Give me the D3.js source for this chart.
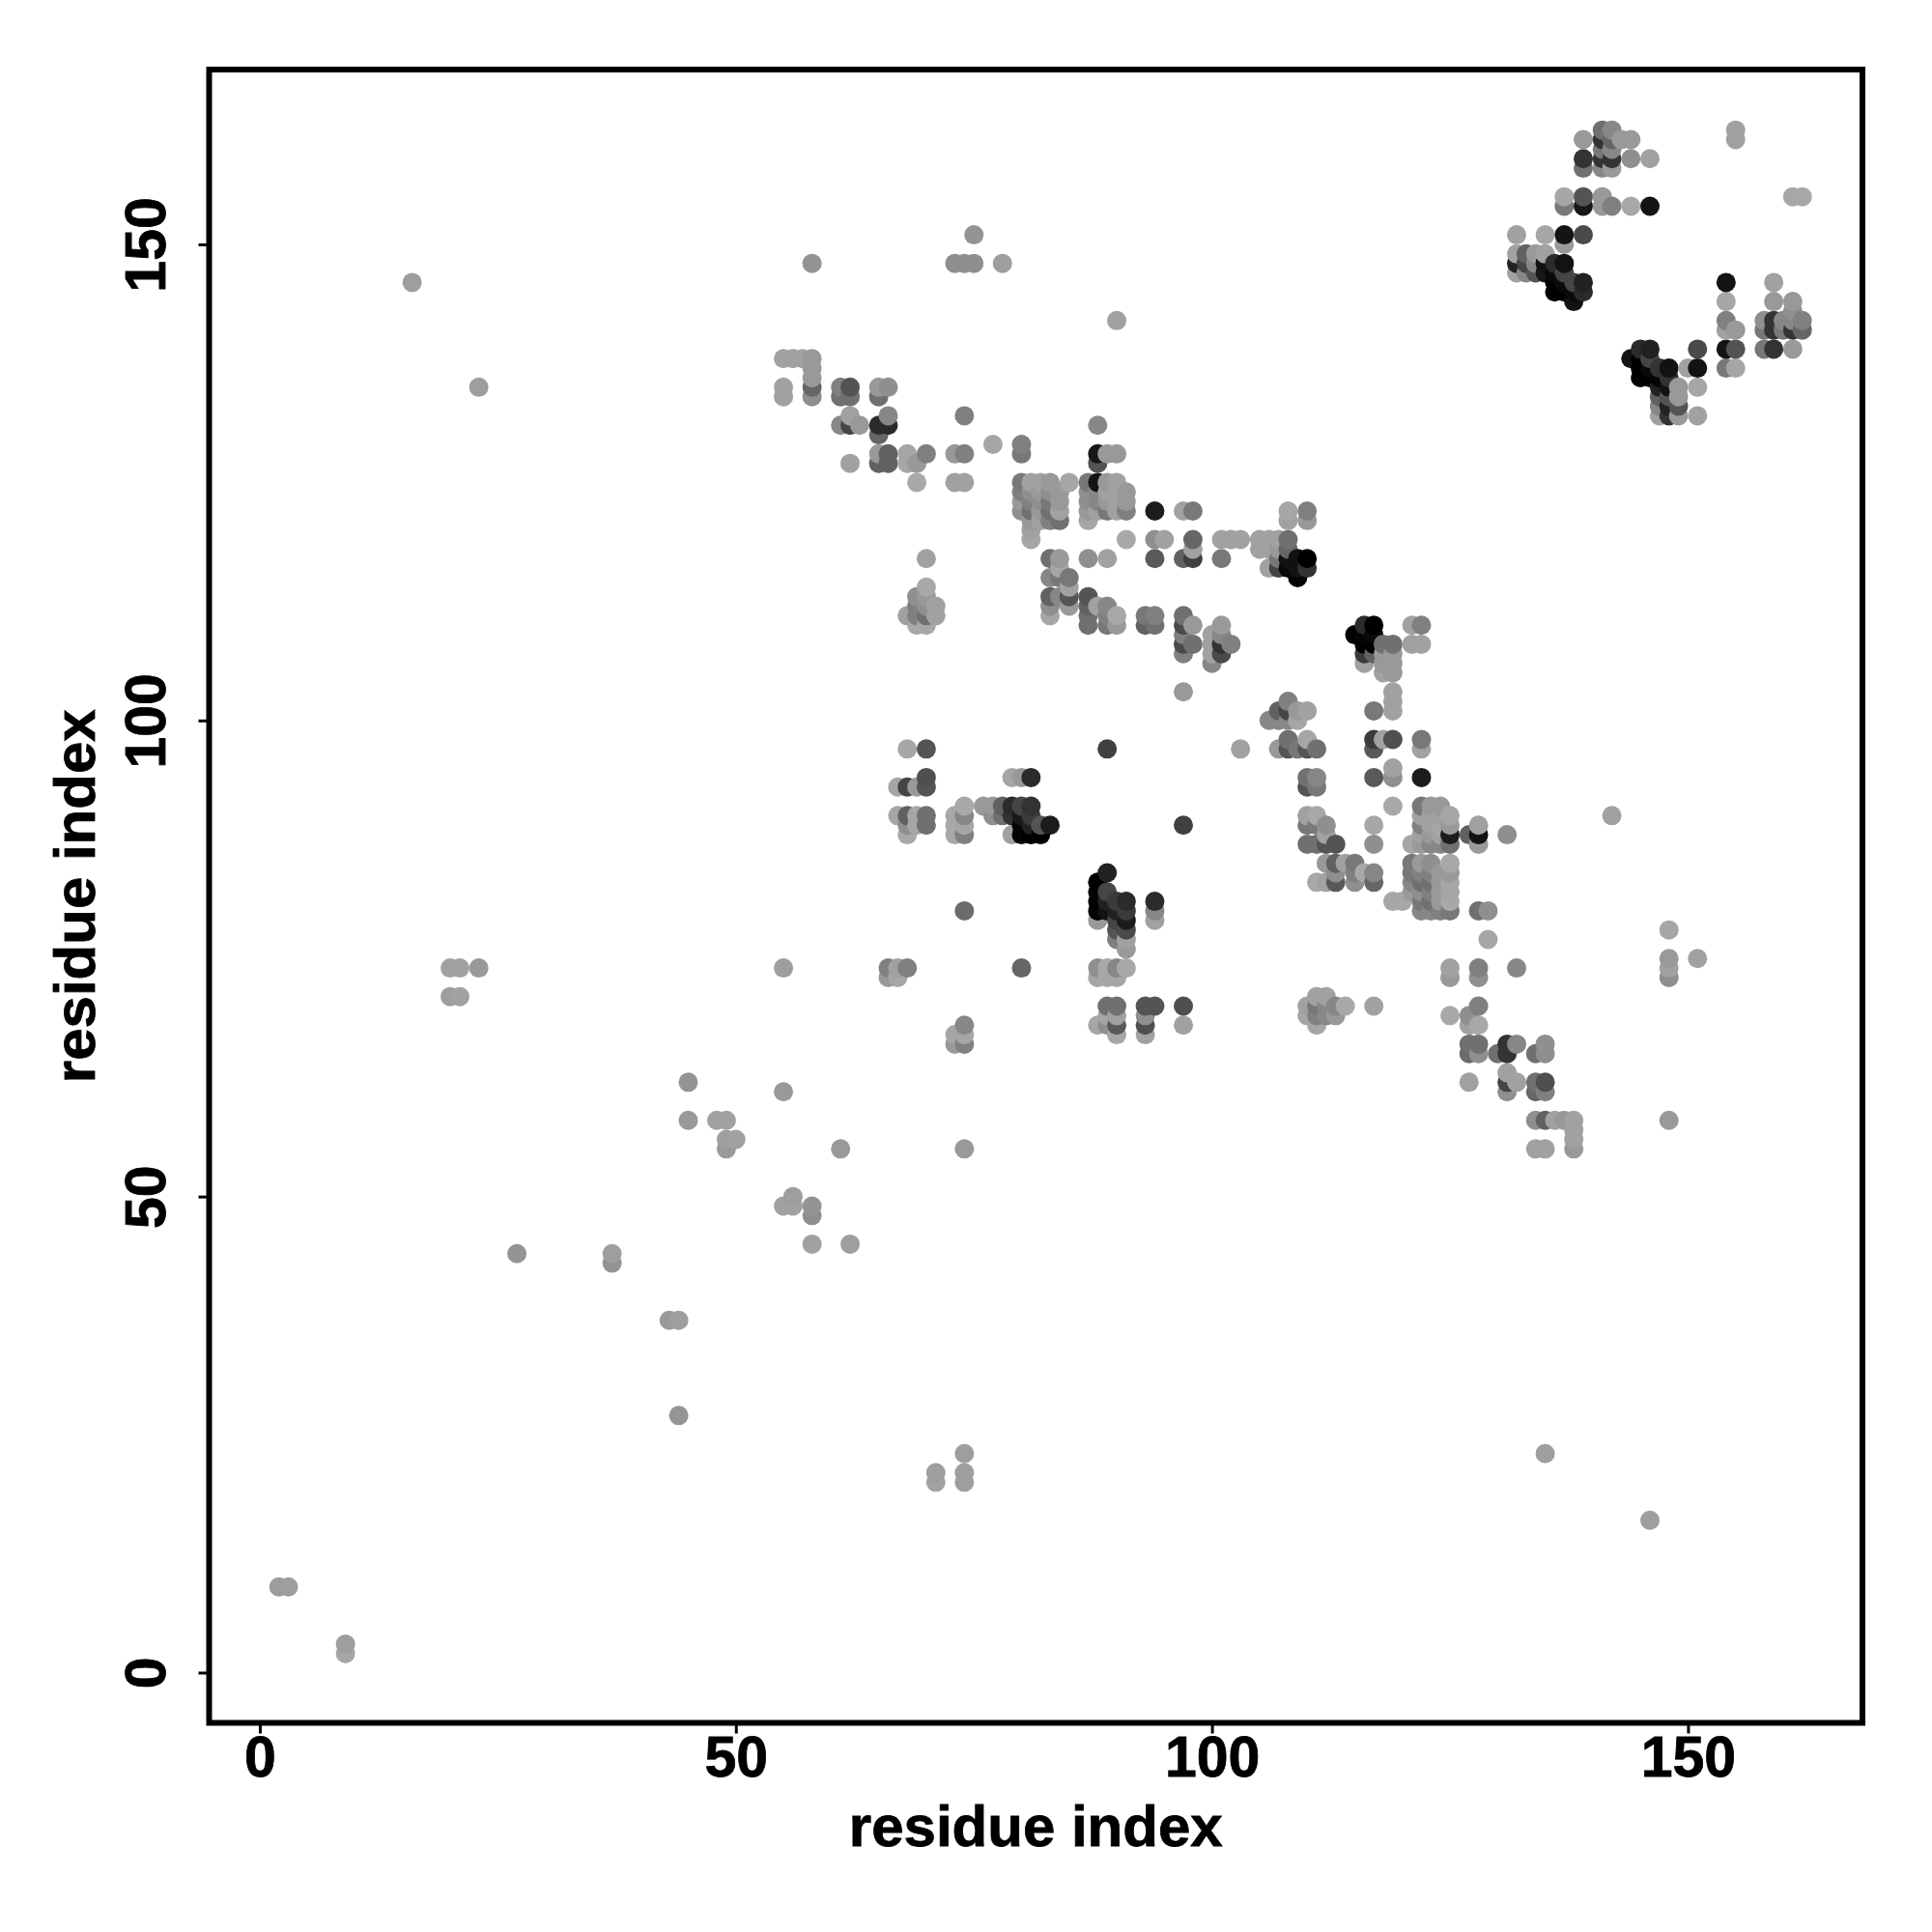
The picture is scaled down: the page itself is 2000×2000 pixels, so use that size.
<!DOCTYPE html>
<html>
<head>
<meta charset="utf-8">
<script src="https://cdn.jsdelivr.net/npm/d3@7"></script>
<style>
  body { margin: 0; background: #fff; }
  text { font-family: "Liberation Sans", sans-serif; font-weight: bold; fill: #000; stroke: #000; stroke-width: 0.8px; }
</style>
</head>
<body>
<svg class="canvas" width="2000" height="2000"></svg>
<script>
// contacts are [residue i, residue j, strength 0-100]
const sparseContacts = [
  [2,9,39],[3,9,38],[9,3,38],[9,2,35],[16,146,38],[23,135,38],
  [20,74,37],[21,74,37],[23,74,40],[20,71,38],[21,71,37],
  [27,44,42],[37,44,38],[37,43,42],[43,37,40],[44,37,38],[44,27,42],
  [45,62,42],[45,58,40],[48,58,37],[49,58,37],[49,56,38],[50,56,37],[49,55,40],
  [55,61,40],[55,74,38],[55,49,37],[56,50,38],[56,49,37],[58,49,42],[58,48,44],[58,45,37],[62,45,38],
  [61,55,40],[74,55,40],[71,21,38],[71,20,37],[74,23,38],[74,21,38],[74,20,38],
  [135,23,38],[146,16,38],[142,90,37],[148,58,40],[58,148,42],[75,151,42],
  [73,148,44],[74,148,44],[75,148,44],[78,148,38],[90,142,37],
  [148,78,35],[148,75,40],[148,74,37],[148,73,44],[151,75,37]
];

const topRightContacts = [
  [141,162,56],[142,162,47],[155,162,37],
  [139,161,40],[141,161,80],[142,161,60],[143,161,40],[144,161,40],[155,161,37],
  [141,160,53],[142,160,47],
  [139,159,80],[141,159,80],[142,159,80],[144,159,44],[146,159,37],
  [139,158,56],[141,158,47],[142,158,40],
  [137,155,35],[139,155,67],[141,155,40],[161,155,35],[162,155,34],
  [137,154,53],[139,154,91],[141,154,40],[142,154,50],[144,154,34],[146,154,92],
  [132,151,37],[135,151,35],[137,151,92],[139,151,71],
  [137,150,40],
  [132,149,37],[133,149,62],[134,149,40],[135,149,37],
  [132,148,87],[133,148,73],[134,148,47],[135,148,93],[136,148,83],[137,148,93],
  [132,147,37],[133,147,47],[134,147,67],[135,147,91],[136,147,96],[137,147,73],
  [136,146,100],[137,146,96],[138,146,73],[139,146,87],[154,146,92],[159,146,37],
  [136,145,100],[137,145,100],[138,145,96],[139,145,83],
  [138,144,93],[154,144,35],[159,144,40],[161,144,40],
  [161,143,44],
  [154,142,50],[158,142,44],[159,142,80],[160,142,47],[161,142,47],[162,142,50],
  [154,141,37],[155,141,40],[158,141,53],[159,141,80],[160,141,53],[161,141,80],[162,141,60],
  [145,139,83],[146,139,87],[151,139,71],[154,139,92],[155,139,67],[158,139,53],[159,139,80],[161,139,40],
  [144,138,92],[145,138,100],[146,138,73],
  [145,137,100],[146,137,96],[147,137,80],[148,137,93],[150,137,37],[151,137,93],[154,137,53],[155,137,35],
  [145,136,98],[146,136,100],[147,136,98],[148,136,80],
  [147,135,87],[148,135,93],[149,135,40],[151,135,35],
  [147,134,62],[148,134,67],[149,134,40],
  [147,133,47],[148,133,87],[149,133,67],
  [147,132,37],[148,132,80],[149,132,40],[151,132,37]
];

const upperLeftContacts = [
  [55,138,37],[56,138,37],[57,138,37],[58,138,40],[58,137,40],[58,136,40],
  [55,135,37],[58,135,60],[61,135,50],[62,135,67],[65,135,40],[66,135,44],
  [55,134,37],[58,134,44],[61,134,56],[62,134,56],[65,134,56],
  [62,132,37],[66,132,47],[74,132,50],
  [61,131,47],[62,131,73],[63,131,40],[65,131,83],[66,131,83],[88,131,47],
  [65,130,60],[77,129,35],[80,129,50],
  [65,128,40],[66,128,62],[68,128,35],[70,128,50],[73,128,40],[74,128,50],[80,128,53],[88,128,91],[89,128,40],[90,128,40],
  [62,127,37],[65,127,62],[66,127,62],[68,127,35],[69,127,40],[88,127,67],
  [69,125,34],[73,125,37],[74,125,37],
  [70,117,37],[70,114,34],[69,113,44],[70,113,40],[69,112,50],[70,112,44],[71,112,37],
  [68,111,37],[69,111,50],[70,111,56],[71,111,37],[69,110,34],[70,110,34]
];

const centreContacts = [
  [80,125,53],[81,125,37],[82,125,37],[83,125,40],[85,125,35],[87,125,53],[88,125,92],[89,125,40],[90,125,37],
  [80,124,50],[81,124,44],[82,124,40],[83,124,44],[84,124,40],[87,124,44],[88,124,47],[89,124,37],[90,124,37],[91,124,40],
  [80,123,40],[81,123,50],[82,123,44],[83,123,53],[84,123,40],[87,123,44],[88,123,47],[89,123,40],[90,123,37],[91,123,40],
  [80,122,44],[81,122,56],[82,122,40],[83,122,56],[84,122,37],[87,122,40],[88,122,37],[89,122,53],[90,122,37],[91,122,50],[94,122,89],[97,122,37],[98,122,53],[108,122,35],[110,122,50],
  [81,121,40],[82,121,37],[83,121,50],[84,121,56],[87,121,35],[108,121,37],[110,121,40],
  [81,120,37],[81,119,35],[91,119,34],[94,119,44],[95,119,37],[98,119,60],[101,119,37],[102,119,37],[103,119,37],[105,119,37],[106,119,37],[107,119,37],[108,119,56],
  [98,118,37],[105,118,37],[106,118,37],[107,118,40],[108,118,60],
  [83,117,56],[84,117,40],[87,117,44],[89,117,37],[94,117,65],[97,117,62],[98,117,75],[101,117,53],[107,117,53],[108,117,93],[109,117,93],[110,117,100],
  [84,116,35],[106,116,37],[107,116,73],[108,116,96],[109,116,93],[110,116,80],
  [83,115,47],[84,115,53],[85,115,53],[109,115,98],[85,114,37],
  [83,113,62],[84,113,47],[85,113,67],[87,113,67],
  [83,112,44],[85,112,40],[87,112,62],[88,112,37],[89,112,47],
  [83,111,35],[87,111,56],[89,111,50],[90,111,34],[93,111,53],[94,111,50],[97,111,56],
  [87,110,56],[89,110,53],[90,110,40],[93,110,62],[94,110,56],[97,110,71],[98,110,40],[101,110,40],
  [97,109,50],[100,109,37],[101,109,47],
  [97,108,71],[98,108,56],[100,108,37],[101,108,80],[102,108,50],
  [97,107,50],[100,107,37],[101,107,71],[100,106,47],[97,103,40],
  [108,102,50],[107,101,62],[108,101,73],[109,101,40],[110,101,37],
  [106,100,47],[107,100,47],[108,100,47],[109,100,35],
  [108,98,56],[110,98,35],
  [89,97,75],[103,97,37],[107,97,40],[108,97,67],[109,97,53],[110,97,67],[111,97,56],
  [110,94,56],[111,94,47],[110,93,67],[111,93,53]
];

const lowerLeftContacts = [
  [68,97,35],[70,97,67],
  [70,94,69],[79,94,35],[80,94,40],[81,94,83],
  [67,93,35],[68,93,73],[69,93,40],[70,93,67],
  [74,91,34],[76,91,40],[77,91,40],[78,91,62],[79,91,83],[80,91,73],[81,91,80],
  [67,90,35],[68,90,62],[69,90,35],[70,90,56],[73,90,34],[74,90,47],[77,90,44],[78,90,56],[79,90,80],[80,90,90],[81,90,77],
  [68,89,44],[69,89,35],[70,89,56],[73,89,34],[74,89,35],[80,89,98],[81,89,87],[82,89,67],[83,89,89],[97,89,75],
  [68,88,34],[73,88,34],[74,88,50],[79,88,37],[80,88,98],[81,88,100],[82,88,100],
  [89,84,87],[88,83,100],[88,82,98],[89,82,73],
  [88,81,100],[89,81,87],[90,81,77],[91,81,83],[94,81,83],
  [74,80,58],[88,80,98],[89,80,93],[90,80,87],[91,80,77],[94,80,47],
  [88,79,40],[90,79,73],[91,79,89],[94,79,37],
  [90,78,67],[91,78,71],[90,77,50],[91,77,37],[91,76,40],
  [66,74,50],[67,74,37],[68,74,50],[80,74,60],[88,74,44],[89,74,34],[90,74,47],[91,74,34],
  [66,73,40],[67,73,35],[88,73,35],[89,73,35],[90,73,35],
  [89,70,56],[90,70,56],[93,70,67],[94,70,67],[97,70,69],
  [89,69,35],[90,69,37],[93,69,44],
  [74,68,47],[88,68,35],[89,68,44],[90,68,65],[93,68,69],[97,68,37],
  [73,67,35],[74,67,35],[90,67,35],[93,67,37],
  [73,66,40],[74,66,50]
];

const lowerRightContacts = [
  [116,110,83],[117,110,100],[121,110,37],[122,110,50],
  [115,109,100],[116,109,98],[117,109,96],
  [116,108,100],[117,108,100],[118,108,56],[119,108,56],[121,108,37],[122,108,37],
  [116,107,77],[117,107,62],[118,107,40],[119,107,40],
  [116,106,37],[118,106,40],[119,106,40],[118,105,37],[119,105,40],
  [119,103,37],[119,102,37],[117,101,53],[119,101,37],
  [117,98,77],[118,98,37],[119,98,69],[122,98,53],[117,97,65],[122,97,37],
  [119,95,37],[117,94,65],[119,94,44],[122,94,89],
  [119,91,34],[122,91,53],[123,91,40],[124,91,40],
  [110,90,37],[111,90,34],[122,90,37],[123,90,37],[124,90,37],[125,90,35],
  [110,89,53],[111,89,53],[112,89,44],[117,89,35],[122,89,50],[123,89,37],[124,89,35],[125,89,40],[128,89,37],
  [112,88,37],[122,88,37],[123,88,40],[124,88,37],[125,88,89],[127,88,62],[128,88,93],[131,88,44],[128,87,40],
  [110,87,56],[111,87,56],[112,87,67],[113,87,67],[117,87,44],[121,87,35],[122,87,40],[123,87,47],[124,87,47],[125,87,56],
  [112,85,40],[113,85,62],[114,85,37],[115,85,53],[125,85,34],[121,85,53],[122,85,40],[123,85,44],
  [113,84,44],[115,84,50],[116,84,34],[117,84,47],[121,84,53],[122,84,50],[123,84,50],[124,84,40],[125,84,40],
  [111,83,34],[112,83,37],[113,83,65],[115,83,44],[117,83,60],[121,83,47],[122,83,56],[123,83,56],[124,83,40],[125,83,35],
  [121,82,40],[122,82,44],[123,82,50],[124,82,40],[125,82,35],
  [119,81,35],[120,81,35],[122,81,53],[123,81,56],[124,81,40],[125,81,34],
  [122,80,47],[123,80,47],[124,80,50],[125,80,53],[128,80,56],[129,80,44],
  [129,77,35],[125,74,37],[128,74,50],[132,74,47],[125,73,40],[128,73,44],
  [111,71,37],[112,71,37],
  [110,70,37],[111,70,53],[112,70,47],[113,70,47],[114,70,34],[117,70,37],[128,70,50],
  [110,69,35],[111,69,50],[112,69,47],[113,69,40],[125,69,34],[127,69,44],
  [111,68,35],[127,68,37],[128,68,34],
  [127,66,56],[128,66,56],[131,66,80],[132,66,47],[135,66,44],
  [127,65,58],[128,65,44],[130,65,56],[131,65,80],[134,65,56],[135,65,44],
  [131,63,37],[127,62,37],[131,62,73],[132,62,37],[134,62,56],[135,62,69],
  [131,61,44],[134,61,60],[135,61,50],
  [134,58,44],[135,58,62],[136,58,37],[137,58,40],[138,58,37],
  [138,57,37],[138,56,37],[134,55,37],[135,55,37],[138,55,40]
];

const xTicks = [0, 50, 100, 150];
const yTicks = [0, 50, 100, 150];
const axisTitle = "residue index";

const svg = d3.select(".canvas");
const plot = { left: 216.5, right: 1928, top: 72, bottom: 1783.5 };

const x = d3.scaleLinear().domain([-5.32, 168.32]).range([plot.left, plot.right]);
const y = d3.scaleLinear().domain([-5.28, 168.36]).range([plot.bottom, plot.top]);
const shade = d3.scaleLinear().domain([0, 100]).range(["#fff", "#000"]);

// lower rows first inside a column, later columns go on top
const contacts = [
  ...sparseContacts, ...topRightContacts, ...upperLeftContacts,
  ...centreContacts, ...lowerLeftContacts, ...lowerRightContacts
].sort((a, b) => d3.ascending(a[0], b[0]) || d3.ascending(a[1], b[1]));

svg.append("g")
  .selectAll("circle")
  .data(contacts)
  .enter()
  .append("circle")
  .attr("cx", d => x(d[0]))
  .attr("cy", d => y(d[1]))
  .attr("r", 10)
  .attr("fill", d => shade(d[2]));

const xAxis = svg.append("g")
  .attr("transform", `translate(0,${plot.bottom})`)
  .call(d3.axisBottom(x).tickValues(xTicks).tickSize(11).tickPadding(0).tickFormat(d3.format("d")));
xAxis.select(".domain").remove();
xAxis.selectAll("line").attr("stroke", "#000").attr("stroke-width", 3);
xAxis.selectAll("text")
  .attr("y", 55)
  .attr("dy", 0)
  .style("font-size", "59px")
  .style("font-family", "Liberation Sans")
  .style("font-weight", "bold");

const yAxis = svg.append("g")
  .attr("transform", `translate(${plot.left},0)`)
  .call(d3.axisLeft(y).tickValues(yTicks).tickSize(11).tickPadding(0).tickFormat(d3.format("d")));
yAxis.select(".domain").remove();
yAxis.selectAll("line").attr("stroke", "#000").attr("stroke-width", 3);
yAxis.selectAll("text")
  .attr("x", 0)
  .attr("dy", 0)
  .attr("text-anchor", "middle")
  .attr("transform", "translate(-46,0) rotate(-90)")
  .style("font-size", "59px")
  .style("font-family", "Liberation Sans")
  .style("font-weight", "bold");

svg.append("rect")
  .attr("x", plot.left)
  .attr("y", plot.top)
  .attr("width", plot.right - plot.left)
  .attr("height", plot.bottom - plot.top)
  .attr("fill", "none")
  .attr("stroke", "#000")
  .attr("stroke-width", 6);

svg.append("text")
  .attr("x", (plot.left + plot.right) / 2)
  .attr("y", 1911)
  .attr("text-anchor", "middle")
  .style("font-size", "60px")
  .text(axisTitle);

svg.append("text")
  .attr("transform", `translate(98,${(plot.top + plot.bottom) / 2}) rotate(-90)`)
  .attr("text-anchor", "middle")
  .style("font-size", "60px")
  .text(axisTitle);
</script>
</body>
</html>
